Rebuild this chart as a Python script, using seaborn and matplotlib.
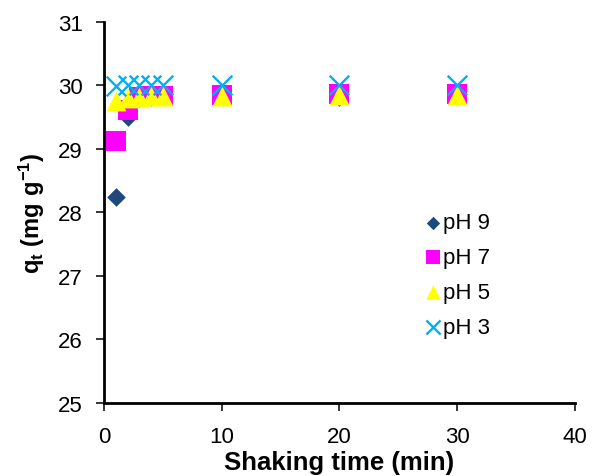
import matplotlib
matplotlib.use("Agg")
import matplotlib.pyplot as plt
import seaborn as sns
import pandas as pd

time = [1, 2, 3, 4, 5, 10, 20, 30]
ph9 = [28.25, 29.50, 29.80, 29.82, 29.83, 29.84, 29.82, 29.85]
ph7 = [29.12, 29.62, 29.82, 29.84, 29.83, 29.85, 29.86, 29.87]
ph5 = [29.76, 29.80, 29.82, 29.83, 29.84, 29.84, 29.85, 29.85]
ph3 = [29.99, 30.00, 30.00, 30.00, 30.00, 30.00, 30.00, 30.00]
labels = ["pH 9", "pH 7", "pH 5", "pH 3"]

sns.set_style("ticks")
plt.rcParams["font.family"] = ["Liberation Sans", "DejaVu Sans"]
plt.rcParams["mathtext.fontset"] = "custom"
plt.rcParams["mathtext.rm"] = "Liberation Sans"
plt.rcParams["mathtext.bf"] = "Liberation Sans:bold"
plt.rcParams["text.color"] = "black"
plt.rcParams["axes.labelcolor"] = "black"

fig = plt.figure(figsize=(5.92, 4.77), dpi=100)
ax = fig.add_axes([0.1757, 0.153, 0.7953, 0.799])

series = [ph9, ph7, ph5, ph3]
styles = [
    dict(marker="D", color="#1F497D", s=90),
    dict(marker="s", color="#FF00FF", s=205),
    dict(marker="^", color="#FFFF00", s=205),
    dict(marker="x", color="#00B0F0", s=200),
]
for lab, vals, st in zip(labels, series, styles):
    df = pd.DataFrame({"t": time, "q": vals})
    if st["marker"] == "x":
        kw = dict(linewidth=1.7, edgecolor=st["color"])
    else:
        kw = dict(linewidth=0)
    sns.scatterplot(data=df, x="t", y="q", ax=ax, marker=st["marker"],
                    color=st["color"], s=st["s"], label=lab, **kw)

ax.set_xlim(0, 40)
ax.set_ylim(25, 31)
ax.set_xticks([0, 10, 20, 30, 40])
ax.set_yticks([25, 26, 27, 28, 29, 30, 31])
ax.tick_params(direction="out", length=5.5, width=1.1, labelsize=16, colors="black")
ax.tick_params(axis="x", pad=11)
ax.tick_params(axis="y", pad=10)
for sp in ["top", "right"]:
    ax.spines[sp].set_visible(False)
for sp in ["left", "bottom"]:
    ax.spines[sp].set_linewidth(2)
    ax.spines[sp].set_color("black")

ax.set_xlabel("Shaking time (min)", fontsize=18.5, fontweight="bold", labelpad=2, color="black")
ax.set_ylabel(r"$\mathbf{q_t}$ $\mathbf{(mg\ g^{-1})}$", fontsize=17, labelpad=8, color="black")

leg = ax.legend(loc="upper left", bbox_to_anchor=(0.68, 0.50), frameon=False,
                fontsize=16, markerscale=0.72, handletextpad=0.05, labelspacing=0.62,
                handlelength=0.8, borderaxespad=0, borderpad=0)
for t in leg.get_texts():
    t.set_color("black")

fig.savefig("out.png", dpi=100)
